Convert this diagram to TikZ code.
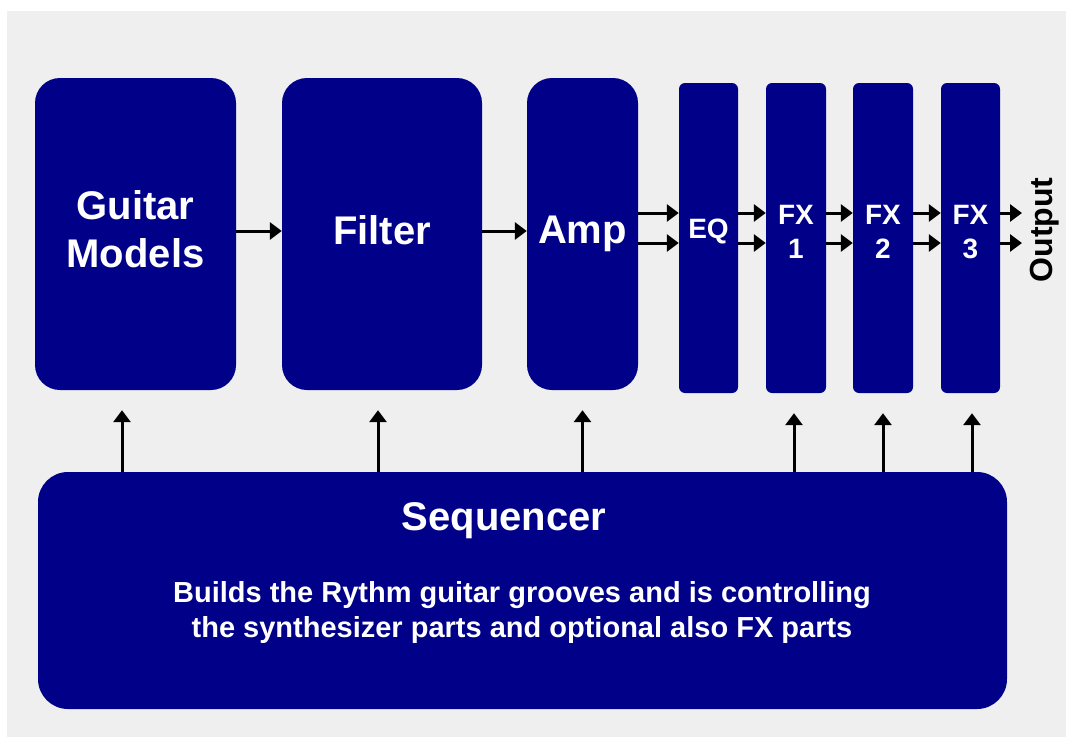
\documentclass[tikz,border=0pt]{standalone}
\usepackage{fontspec}
\setmainfont{Liberation Sans}
\usetikzlibrary{arrows.meta}
\definecolor{navy}{HTML}{000088}
\definecolor{bggrey}{HTML}{EFEFEF}
\begin{document}
\begin{tikzpicture}[x=1pt,y=-1pt,
  bigtext/.style={text=white, font=\bfseries\fontsize{40}{48}\selectfont, align=center, inner sep=0pt},
  smalltext/.style={text=white, font=\bfseries\fontsize{28}{34}\selectfont, align=center, inner sep=0pt},
  bigbox/.style={fill=navy, draw=none, rounded corners=25pt, inner sep=0pt,
    minimum height=312pt},
  smallbox/.style={fill=navy, draw=none, rounded corners=6pt, inner sep=0pt,
    minimum width=59pt, minimum height=310pt},
  arr/.style={-{Triangle[length=12pt,width=17pt]}, line width=3pt, black},
]
\useasboundingbox (0,0) rectangle (1066,739);
\fill[white] (0,0) rectangle (1066,739);
\fill[bggrey] (7,11) rectangle (1066,737);

\node[bigbox, minimum width=201pt,
  label={[bigtext, yshift=5pt]center:{Guitar\\Models}}] (gm) at (135.5,234) {};
\node[bigbox, minimum width=200pt,
  label={[bigtext, yshift=4pt]center:Filter}] (flt) at (382,234) {};
\node[bigbox, minimum width=111pt,
  label={[bigtext, yshift=0pt]center:Amp}] (amp) at (582.5,234) {};
\node[smallbox, label={[smalltext, yshift=7pt]center:EQ}] (eq) at (708.5,238) {};
\node[smallbox, minimum width=60pt,
  label={[smalltext, yshift=6pt]center:{FX\\1}}] (fx1) at (796,238) {};
\node[smallbox, minimum width=60pt,
  label={[smalltext, yshift=6pt]center:{FX\\2}}] (fx2) at (883,238) {};
\node[smallbox,
  label={[smalltext, yshift=6pt]center:{FX\\3}}] (fx3) at (970.5,238) {};

\node[fill=navy, draw=none, rounded corners=30pt, minimum width=969pt,
  minimum height=237pt, inner sep=0pt] (seq) at (522.5,590.5) {};
\node[text=white, font=\bfseries\fontsize{40}{48}\selectfont, inner sep=0pt]
  (seqt) at (504,521) {Sequencer};
\node[text=white, font=\bfseries\fontsize{29}{35}\selectfont, align=center, inner sep=0pt]
  (seqd) at (522,612) {Builds the Rythm guitar grooves and is controlling\\the synthesizer parts and optional also FX parts};

\node[rotate=90, font=\bfseries\fontsize{32}{38}\selectfont, inner sep=0pt]
  (out) at (1045,230) {Output};

% horizontal connectors
\draw[arr] ([yshift=3pt]gm.east) -- ([yshift=3pt]flt.west);
\draw[arr] ([yshift=3pt]flt.east) -- ([yshift=3pt]amp.west);
\coordinate (r1) at (0,213);
\coordinate (r2) at (0,243);
\foreach \a/\b in {amp/eq, eq/fx1, fx1/fx2, fx2/fx3} {
  \draw[arr] (\a.east |- r1) -- (\b.west |- r1);
  \draw[arr] (\a.east |- r2) -- (\b.west |- r2);
}
\coordinate (o1) at (1022,213);
\coordinate (o2) at (1022,243);
\draw[arr] (fx3.east |- o1) -- (o1);
\draw[arr] (fx3.east |- o2) -- (o2);

% vertical connectors from sequencer
\foreach \n/\dx in {gm/-13.5, flt/-4, amp/0, fx1/-2, fx2/0, fx3/1.5} {
  \draw[arr] ([xshift=\dx pt]\n.south |- seq.north) -- ([xshift=\dx pt, yshift=-20pt]\n.south);
}
\end{tikzpicture}
\end{document}
